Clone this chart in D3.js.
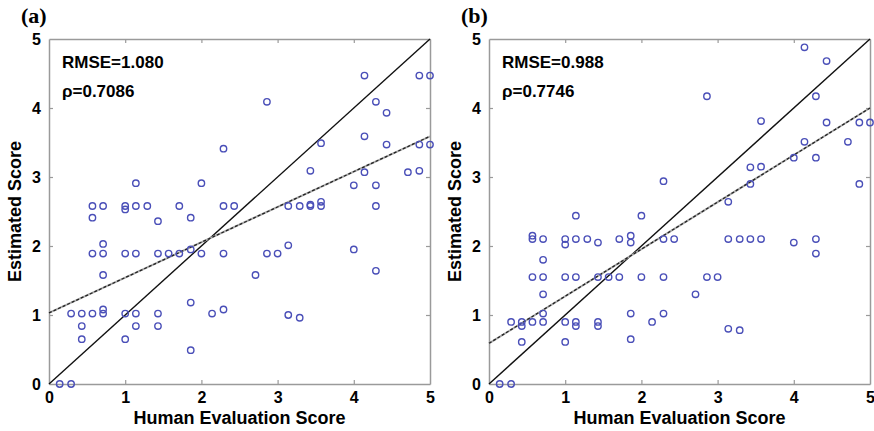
<!DOCTYPE html>
<html>
<head>
<meta charset="utf-8">
<script src="https://cdn.jsdelivr.net/npm/d3@7"></script>
<style>
  body { margin: 0; background: #fff; }
  svg { display: block; }
</style>
</head>
<body>
<div id="chart"></div>
<script>
// Scatter of estimated vs human scores, two panels

const ticks = [0, 1, 2, 3, 4, 5];

const panelLabels = ["(a)", "(b)"];
const rmseLabels = ["RMSE=1.080", "RMSE=0.988"];
const rhoLabels = ["\u03C1=0.7086", "\u03C1=0.7746"];

// human score / estimated score pairs, panel (a)
const humanA = [0.14, 0.29, 0.29, 0.43, 0.43, 0.43, 0.57, 0.57, 0.57, 0.57,
  0.71, 0.71, 0.71, 0.71, 0.71, 0.71, 1, 1, 1, 1, 1,
  1.14, 1.14, 1.14, 1.14, 1.14, 1.29, 1.43, 1.43, 1.43, 1.43, 1.57, 1.71, 1.71,
  1.86, 1.86, 1.86, 1.86, 2, 2, 2.14, 2.29, 2.29, 2.29, 2.29, 2.43, 2.71,
  2.86, 2.86, 3, 3.14, 3.14, 3.14, 3.29, 3.29, 3.43, 3.43, 3.43,
  3.57, 3.57, 3.57, 4, 4, 4.14, 4.14, 4.14, 4.29, 4.29, 4.29, 4.29,
  4.43, 4.43, 4.71, 4.86, 4.86, 4.86, 5, 5];
const estA = [0, 0, 1.02, 1.02, 0.84, 0.65, 1.02, 1.89, 2.41, 2.58,
  2.58, 2.03, 1.89, 1.58, 1.08, 1.02, 2.58, 2.53, 1.89, 1.02, 0.65,
  2.91, 2.58, 1.89, 1.02, 0.84, 2.58, 2.36, 1.89, 1.02, 0.84, 1.89, 2.58, 1.89,
  2.41, 1.95, 1.18, 0.49, 2.91, 1.89, 1.02, 3.41, 2.58, 1.89, 1.08, 2.58, 1.58,
  4.09, 1.89, 1.89, 2.58, 2.01, 1.0, 2.58, 0.96, 3.09, 2.58, 2.60,
  3.49, 2.64, 2.58, 2.88, 1.95, 4.47, 3.59, 3.07, 4.09, 2.88, 2.58, 1.64,
  3.93, 3.47, 3.07, 4.47, 3.47, 3.09, 4.47, 3.47];

// panel (b)
const humanB = [0.14, 0.29, 0.29, 0.43, 0.43, 0.43, 0.57, 0.57, 0.57, 0.57,
  0.71, 0.71, 0.71, 0.71, 0.71, 0.71, 1, 1, 1, 1, 1,
  1.14, 1.14, 1.14, 1.14, 1.14, 1.29, 1.43, 1.43, 1.43, 1.43, 1.57, 1.71, 1.71,
  1.86, 1.86, 1.86, 1.86, 2, 2, 2.14, 2.29, 2.29, 2.29, 2.29, 2.43, 2.71,
  2.86, 2.86, 3, 3.14, 3.14, 3.14, 3.29, 3.29, 3.43, 3.43, 3.43,
  3.57, 3.57, 3.57, 4, 4, 4.14, 4.14, 4.29, 4.29, 4.29, 4.29,
  4.43, 4.43, 4.71, 4.86, 4.86, 5];
const estB = [0, 0, 0.90, 0.90, 0.84, 0.61, 0.90, 1.55, 2.10, 2.15,
  2.10, 1.80, 1.55, 1.30, 1.02, 0.90, 2.10, 2.02, 1.55, 0.90, 0.61,
  2.44, 2.10, 1.55, 0.90, 0.84, 2.10, 2.05, 1.55, 0.90, 0.84, 1.55, 2.10, 1.55,
  2.15, 2.05, 1.02, 0.65, 2.44, 1.55, 0.90, 2.94, 2.10, 1.55, 1.02, 2.10, 1.30,
  4.17, 1.55, 1.55, 2.64, 2.10, 0.80, 2.10, 0.78, 3.14, 2.90, 2.10,
  3.81, 3.15, 2.10, 3.28, 2.05, 4.88, 3.51, 4.17, 3.28, 2.10, 1.89,
  4.68, 3.79, 3.51, 3.79, 2.90, 3.79];

// fitted line end points (x = 0 and x = 5)
const fitA = [1.03, 3.59];
const fitB = [0.59, 4.0];

const panels = [
  { human: humanA, est: estA, fit: fitA },
  { human: humanB, est: estB, fit: fitB }
];

const width = 874, height = 431;
const svg = d3.select("#chart").append("svg")
  .attr("width", width)
  .attr("height", height);

const plotW = 381, plotH = 345;
const lefts = [49, 489];
const plotTop = 39;
const sans = "'Liberation Sans', Arial, sans-serif";

panels.forEach((p, i) => {
  const g = svg.append("g").attr("transform", `translate(${lefts[i]},${plotTop})`);
  const x = d3.scaleLinear().domain([0, 5]).range([0, plotW]);
  const y = d3.scaleLinear().domain([0, 5]).range([plotH, 0]);

  // box and inward ticks on all four sides
  const tickColor = "#9a9a9a";
  const axes = [
    { gen: d3.axisBottom(x), tr: `translate(0,${plotH})`, lab: true },
    { gen: d3.axisLeft(y), tr: "translate(0,0)", lab: true },
    { gen: d3.axisTop(x), tr: "translate(0,0)", lab: false },
    { gen: d3.axisRight(y), tr: `translate(${plotW},0)`, lab: false }
  ];
  axes.forEach(a => {
    const ax = g.append("g").attr("transform", a.tr)
      .call(a.gen.tickValues(ticks).tickFormat(d3.format("d"))
        .tickSizeInner(-4).tickSizeOuter(0).tickPadding(8));
    ax.select(".domain").attr("stroke", tickColor).attr("stroke-width", 1.5);
    ax.selectAll(".tick line").attr("stroke", tickColor).attr("stroke-width", 1.2)
      .filter(d => d === 0 || d === 5).remove();
    ax.selectAll(".tick text")
      .attr("fill", "#000")
      .style("font-family", sans)
      .style("font-weight", "bold")
      .style("font-size", "16px");
    if (!a.lab) ax.selectAll(".tick text").remove();
  });

  // y = x reference line
  g.append("line")
    .attr("x1", x(0)).attr("y1", y(0))
    .attr("x2", x(5)).attr("y2", y(5))
    .attr("stroke", "#111").attr("stroke-width", 1.4);

  // fitted line: grey underlay with black dashes
  g.append("line")
    .attr("x1", x(0)).attr("y1", y(p.fit[0]))
    .attr("x2", x(5)).attr("y2", y(p.fit[1]))
    .attr("stroke", "#aaa").attr("stroke-width", 2);
  g.append("line")
    .attr("x1", x(0)).attr("y1", y(p.fit[0]))
    .attr("x2", x(5)).attr("y2", y(p.fit[1]))
    .attr("stroke", "#222").attr("stroke-width", 1.3)
    .attr("stroke-dasharray", "3,2");

  // points
  g.selectAll("circle")
    .data(p.human.map((h, k) => [h, p.est[k]]))
    .enter().append("circle")
    .attr("cx", d => x(d[0]))
    .attr("cy", d => y(d[1]))
    .attr("r", 3.2)
    .attr("fill", "none")
    .attr("stroke", "#4a4fb8")
    .attr("stroke-width", 1.4);

  // stats text
  g.append("text")
    .attr("x", 13).attr("y", 29)
    .style("font-family", sans).style("font-weight", "bold").style("font-size", "17px")
    .text(rmseLabels[i]);
  g.append("text")
    .attr("x", 13).attr("y", 58)
    .style("font-family", sans).style("font-weight", "bold").style("font-size", "17px")
    .text(rhoLabels[i]);

  // axis titles
  g.append("text")
    .attr("x", plotW / 2).attr("y", plotH + 40)
    .attr("text-anchor", "middle")
    .style("font-family", sans).style("font-weight", "bold").style("font-size", "18px")
    .text("Human Evaluation Score");
  g.append("text")
    .attr("transform", `translate(-28,${plotH / 2}) rotate(-90)`)
    .attr("text-anchor", "middle")
    .style("font-family", sans).style("font-weight", "bold").style("font-size", "18px")
    .text("Estimated Score");

  // panel letter
  g.append("text")
    .attr("x", -28).attr("y", -16)
    .style("font-family", "'Liberation Serif', 'Times New Roman', serif")
    .style("font-weight", "bold").style("font-size", "22px")
    .text(panelLabels[i]);
});
</script>
</body>
</html>
